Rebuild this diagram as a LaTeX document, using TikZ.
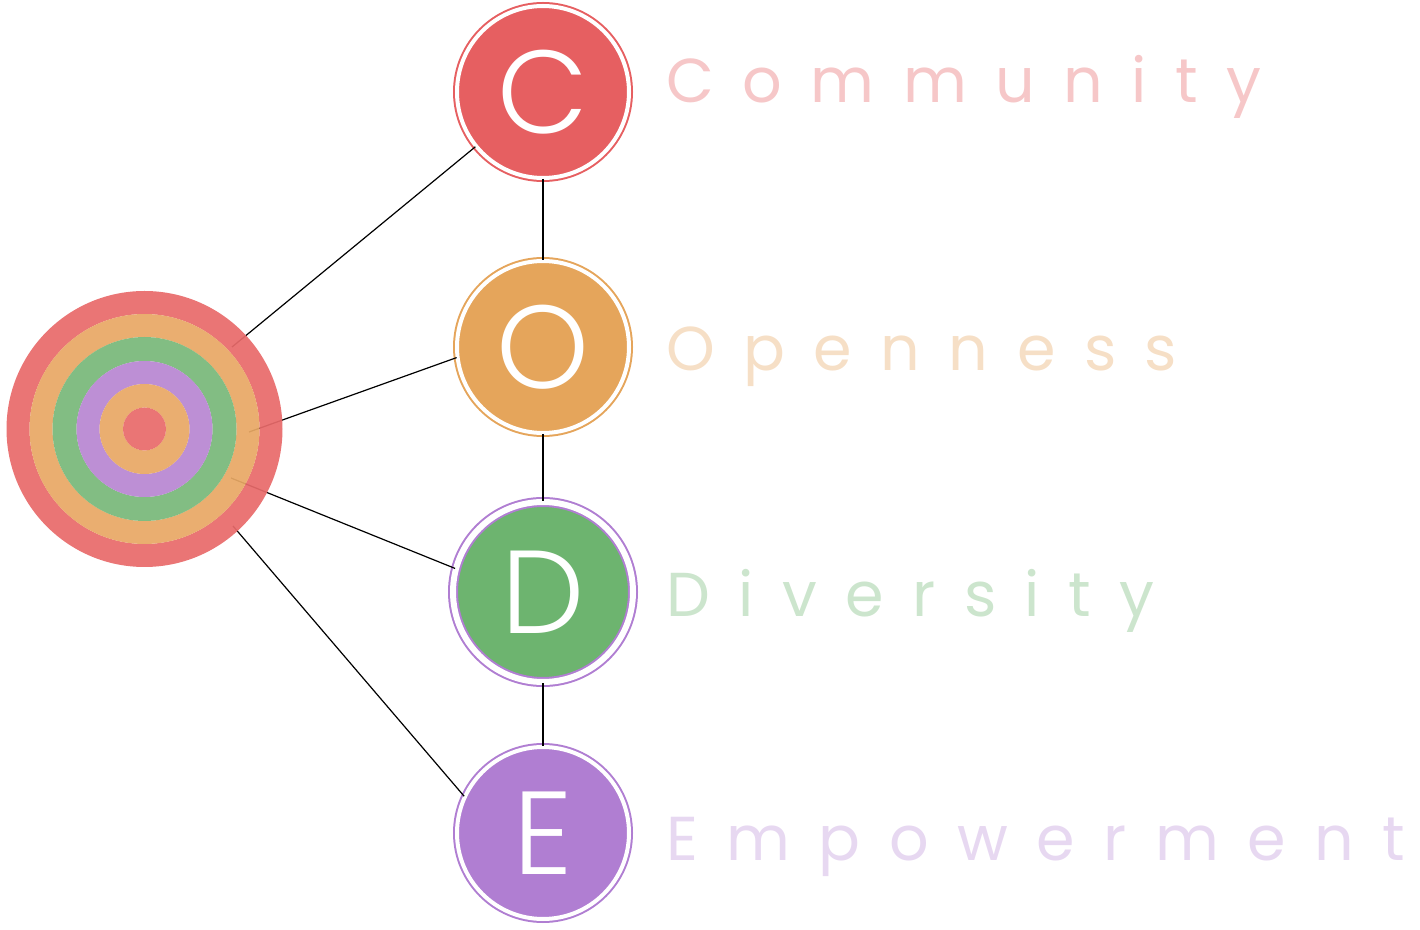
\documentclass[tikz,border=0pt]{standalone}
\usepackage{fontspec}
\setmainfont{Poppins}
\newfontfamily\badgefont{Poppins Light}
\newfontfamily\labelfont[LetterSpace=46]{Poppins}
\definecolor{cred}{HTML}{E65F61}
\definecolor{corange}{HTML}{E5A55B}
\definecolor{cgreen}{HTML}{6DB46F}
\definecolor{cpurple}{HTML}{B07ED2}
\definecolor{tred}{HTML}{E86A6A}
\definecolor{torange}{HTML}{E8A865}
\definecolor{tgreen}{HTML}{78B87A}
\definecolor{tpurple}{HTML}{B887D2}
\tikzset{
    badge/.style={circle, inner sep=0pt, minimum size=86pt, fill=#1, draw=#1,
        line width=1pt, double=white, double distance=2pt, text=white,
        font=\badgefont\fontsize{59}{59}\selectfont},
    word/.style={anchor=base west, text=#1, font=\labelfont\fontsize{31}{31}\selectfont},
    link/.style={black, line width=0.6pt},
    stem/.style={black, line width=0.9pt}
}
\begin{document}
\begin{tikzpicture}[x=0.5pt,y=-0.5pt]
        \useasboundingbox (0,0) rectangle (1420,930);

        %links under the target
        \coordinate (tC) at (232,347);
        \coordinate (tO) at (249,432);
        \coordinate (tD) at (231,478);
        \coordinate (tE) at (233,526);

        \node[badge=cred] (C) at (543,92) {C};
        \node[badge=corange] (O) at (543,347) {O};
        \node[badge=cgreen, draw=cpurple, minimum size=90pt, double distance=3pt] (D) at (543,592) {D};
        \node[badge=cpurple] (E) at (543,833) {E};

        \draw[link] (tC) -- (C.219);
        \draw[link] (tO) -- (O.187);
        \draw[link] (tD) -- (D.165);
        \draw[link] (tE) -- (E.155);

        \draw[stem] (C.south) -- (O.north);
        \draw[stem] (O.south) -- (D.north);
        \draw[stem] (D.south) -- (E.north);

        %target
        \foreach \r/\s/\c in {138/115/tred, 115/92/torange, 92/68/tgreen, 68/45/tpurple, 45/21.5/torange}
            \fill[\c, fill opacity=0.93, even odd rule] (144.5,429) circle (\r) circle (\s);
        \fill[tred, fill opacity=0.93] (144.5,429) circle (21.5);

        %words
        \node[word=cred!35] (wC) at (659,103) {Community};
        \node[word=corange!35] (wO) at (659,371) {Openness};
        \node[word=cgreen!35] (wD) at (659,617) {Diversity};
        \node[word=cpurple!30] (wE) at (659,860) {Empowerment};
\end{tikzpicture}
\end{document}
